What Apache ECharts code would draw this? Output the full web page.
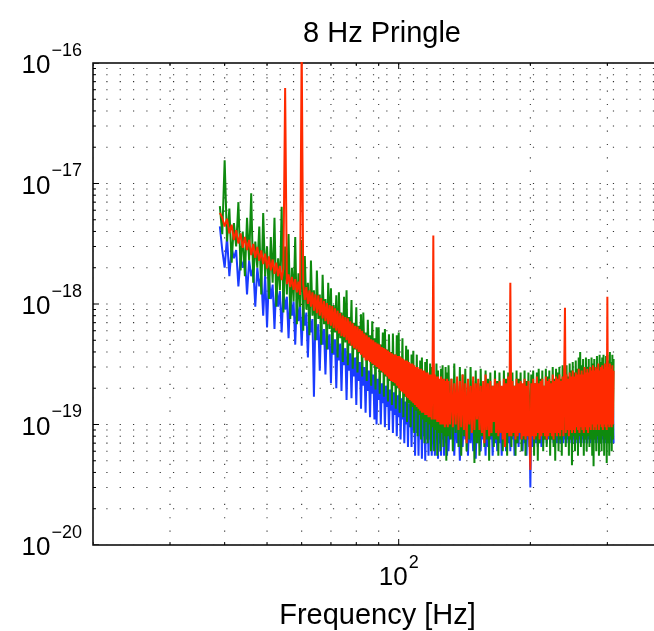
<!DOCTYPE html>
<html>
<head>
<meta charset="utf-8">
<script src="https://cdn.jsdelivr.net/npm/echarts@6/dist/echarts.min.js"></script>
<style>html,body{margin:0;padding:0;background:#fff}#chart{width:654px;height:631px}</style>
</head>
<body>
<div id="chart"></div>
<script>
// ---------- text ----------
const chartTitle = '8 Hz Pringle';
const xAxisName = 'Frequency [Hz]';

// ---------- frequency bins (Hz): fine bins below 130 Hz, 1 Hz bins above ----------
const lowStart = 39, lowStep = 0.5;    // 39 ... 129.5 Hz
const highStart = 130, highStep = 1;   // 130 ... 310 Hz

// ---------- values, in units of 1e-20 ----------
const valueUnit = 1e-20;

const blueLow = [
  440, 280,
  200, 360, 170, 290, 240, 280, 140, 240, 200, 250,
  120, 230, 170, 200, 95, 200, 140, 170, 80, 175,
  64, 170, 110, 145, 62, 150, 95, 128, 58, 130,
  90, 115, 52, 120, 80, 105, 46, 110, 72, 96,
  45, 95, 66, 85, 36, 88, 58, 75, 17, 78,
  50, 68, 28, 70, 46, 62, 26, 63, 42, 56,
  22, 58, 38, 51, 20, 53, 34, 47, 19, 48,
  31, 43, 16, 45, 28, 39, 16.5, 41, 25, 36,
  14.5, 37, 23, 33, 13.5, 34, 21, 30, 12.5, 31,
  19, 28, 11.5, 29, 18, 26, 11, 27, 10, 24,
  16, 25, 10, 22, 15, 23, 9.5, 21, 14, 21,
  9, 19.5, 13, 20, 8.5, 18.5, 12, 19, 8, 17.5,
  11.5, 18, 7.5, 16.5, 11, 17, 7, 15.5, 10, 16,
  6.5, 15, 9.5, 15, 6.5, 14, 9, 14.5, 5.5, 13.5,
  8.5, 14, 5.5, 13, 8, 13.5, 5.2, 13, 8, 12.5,
  5, 13, 7.5, 12.5, 5.5, 12, 7.5, 12.5, 5.5, 12,
  7, 12, 5.5, 12, 7.5, 11.5, 5.2, 11.5, 7, 11.5,
  5.5, 11.5, 7.5, 11.5, 5.5, 11, 7, 11, 5.5, 11
];
const blueHigh = [
  6, 12, 7.5, 12, 5.5, 12, 7, 12, 5, 12,
  6.5, 12, 7.5, 12, 5.5, 11, 7, 12, 6, 11,
  5.2, 12, 7, 11, 6, 12, 7.5, 11, 5.5, 12,
  6.5, 11, 7.5, 12, 5.5, 11, 7, 12, 6, 11,
  7, 12, 5.5, 11, 7.5, 12, 6, 11, 7, 12,
  6, 11, 7.5, 12, 5.5, 11, 7, 12, 6.5, 11,
  7.5, 12, 6, 11, 7, 12, 5.5, 11, 7.5, 12,
  3.0, 12, 6.5, 11, 7.5, 12, 7, 11, 6.5, 12,
  7, 11, 6.5, 12, 7, 11, 7.5, 12, 7, 11,
  7.5, 12, 7, 13, 7.5, 12, 7, 13, 7.5, 12,
  7, 13, 7.5, 12, 7, 13, 7.5, 12, 7, 13,
  7.5, 13, 7, 14, 7.5, 13, 7, 14, 7.5, 13,
  7, 14, 7.5, 13, 7, 14, 7.5, 13, 7, 14,
  7.5, 14, 7, 15, 7.5, 14, 7, 15, 7.5, 14,
  7, 15, 7.5, 14, 7, 15, 7.5, 14, 7, 15,
  7.5, 15, 7, 16, 7.5, 15, 7, 16, 7.5, 15,
  7, 16, 7.5, 15, 7, 16, 7.5, 15, 7, 16,
  7.5, 16, 7, 15, 7.5, 16, 7, 15, 7.5, 16,
  7
];

const greenLow = [
  650, 380,
  1560, 330, 620, 220, 470, 300, 700, 190, 400, 170,
  520, 230, 830, 150, 330, 200, 440, 120, 570, 170,
  300, 110, 360, 150, 520, 95, 240, 130, 640, 85,
  300, 120, 380, 75, 200, 105, 360, 68, 180, 95,
  340, 60, 250, 90, 150, 55, 230, 80, 130, 50,
  190, 75, 120, 46, 175, 68, 110, 42, 150, 62,
  135, 39, 98, 58, 118, 36, 125, 52, 85, 33,
  115, 48, 130, 31, 78, 45, 108, 29, 70, 42,
  94, 27, 66, 39, 82, 25, 85, 36, 58, 23,
  74, 34, 55, 21, 72, 31, 52, 19.5, 64, 29,
  64, 18, 46, 27, 58, 17, 62, 25, 42, 15.5,
  56, 23, 40, 14.5, 57, 21, 38, 13.5, 55, 20,
  58, 12.5, 36, 19, 52, 11.5, 34, 17, 45, 10.5,
  42, 15, 30, 9.5, 38, 14, 41, 8.5, 28, 13,
  38, 8, 27, 12, 34, 7.5, 36, 11, 26, 7,
  33, 10.5, 35, 7, 25, 10, 32, 6, 30, 9.5,
  31, 6, 24, 9, 32, 5.5, 28, 8.5, 23, 6,
  29, 8.5, 31, 6.5, 22, 8, 30, 5, 27, 8
];
const greenHigh = [
  31, 7.5, 24, 6, 32, 8.5, 21, 6.5, 30, 5.5,
  26, 8, 29, 6, 20, 7.5, 30, 8.5, 23, 4.8,
  28, 7, 22, 5.5, 29, 8, 19, 6.5, 28, 7.5,
  24, 5, 27, 8, 21, 6.5, 28, 7.5, 23, 5.5,
  27, 8.5, 20, 6, 28, 7.5, 24, 5.5, 27, 8,
  22, 6.5, 27, 8, 21, 5.5, 28, 7, 24, 8.5,
  27, 6, 20, 7.5, 28, 5.5, 23, 8, 27, 6.5,
  6.5, 26, 8, 28, 5.5, 22, 7.5, 27, 5, 29,
  7, 24, 8.5, 28, 6, 21, 7.5, 29, 6.5, 25,
  8, 28, 5.5, 23, 7.5, 30, 6.5, 24, 5, 29,
  8, 27, 6, 30, 7.5, 24, 5.5, 31, 8, 27,
  30, 6.5, 31, 8, 25, 5.5, 32, 7.5, 28, 4.6,
  33, 8, 27, 6, 34, 7.5, 29, 5.5, 36, 8,
  40, 6.5, 31, 8, 35, 5.5, 28, 7.5, 36, 6,
  30, 8, 35, 6.5, 29, 7.5, 36, 5.5, 32, 4.5,
  35, 7.5, 30, 6, 37, 8, 31, 5.5, 38, 7,
  33, 6, 36, 8, 38, 5.5, 31, 7.5, 37, 4.8,
  38, 7, 34, 5.5, 40, 8, 33, 6, 38, 7.5,
  35
];

const redLow = [
  570, 520,
  440, 510, 385, 455, 340, 410, 318, 385, 292, 360,
  280, 340, 255, 315, 242, 298, 228, 278, 214, 262,
  198, 248, 190, 234, 178, 220, 170, 207, 158, 196,
  6200, 146, 176, 138, 168, 131, 161, 125, 153, 119,
  15000, 145, 108, 138, 100, 130, 95, 125, 88, 120,
  84, 118, 80, 112, 76, 106, 72, 102, 68, 98,
  66, 96, 63, 92, 60, 88, 57, 84, 54, 80,
  53, 78, 50, 76, 47, 72, 45, 69, 43, 66,
  42, 65, 40, 62, 38, 60, 36, 57, 34, 55,
  34, 53, 33, 51, 32, 50, 31, 48, 30, 47,
  29, 46, 28, 44, 27, 43, 26, 42, 25, 41,
  24, 40, 23, 39, 22.5, 38, 22, 38, 21, 37,
  20, 37, 19, 36, 18.5, 35, 18, 34, 17, 34,
  16.5, 33, 16, 32, 15.5, 32, 15, 31, 14.5, 30,
  14, 30, 13.5, 29, 13, 29, 12.5, 28, 12.5, 28,
  12, 27, 12, 27, 11.5, 26, 11.5, 26, 11, 26,
  370, 11, 26, 11, 25, 10.5, 25, 10.5, 24, 10,
  25, 10, 24, 10, 24, 9.5, 23, 10, 24, 9.5
];
const redHigh = [
  23, 10, 24, 9.5, 22, 10, 25, 9, 23, 9.5,
  26, 9, 22, 7, 24, 10, 21, 8.5, 25, 9,
  22, 11, 24, 9, 21, 8.5, 23, 7, 26, 9,
  22, 8, 23, 8.5, 21, 10.5, 24, 8.5, 22, 8,
  23, 8.5, 21, 7.5, 24, 6.5, 22, 8.5, 25, 8,
  150, 8, 23, 8.5, 21, 7.5, 24, 8, 22, 8.5,
  23, 7.5, 22, 8, 24, 7.5, 21, 8, 23, 8.5,
  4.2, 22, 8, 24, 7.5, 22, 8, 25, 8.5, 22,
  7.5, 23, 8, 24, 8.5, 21, 8, 25, 7.5, 23,
  8, 24, 8.5, 22, 8, 26, 7.5, 23, 8.5, 25,
  8, 24, 8.5, 26, 8, 23, 9, 25, 8, 27,
  93, 8.5, 26, 9, 24, 8, 27, 9, 25, 8.5,
  28, 9, 25, 8.5, 27, 9.5, 26, 9, 29, 8.5,
  26, 9.5, 28, 9, 26, 8.5, 30, 9.5, 27, 9,
  29, 8.5, 27, 9.5, 30, 9, 28, 10, 31, 9,
  28, 9.5, 30, 9, 29, 10, 32, 9, 28, 10,
  30, 9.5, 31, 9, 29, 10, 32, 9.5, 30, 9,
  115, 10, 30, 9.5, 32, 10, 29, 9.5, 31, 10,
  28
];

// ---------- axes ----------
const xMin = 20, xMax = 400;
const yMin = 1e-20, yMax = 1e-16;
const xGridVals = [20, 30, 40, 50, 60, 70, 80, 90, 100, 200, 300, 400];
const xMajorVals = [100];
const yMantissas = [1, 2, 3, 4, 5, 6, 7, 8, 9];
const yDecades = [-20, -19, -18, -17];

// ---------- build ----------
const FONT = '"Liberation Sans", Helvetica, Arial, sans-serif';
const yGridVals = [];
yDecades.forEach(d => yMantissas.forEach(m => yGridVals.push(m * Math.pow(10, d))));
yGridVals.push(1e-16);

function toPairs(lowVals, highVals) {
  const out = [];
  lowVals.forEach((v, i) => out.push([lowStart + i * lowStep, v * valueUnit]));
  highVals.forEach((v, i) => out.push([highStart + i * highStep, v * valueUnit]));
  return out;
}
function isDecade(v) {
  const l = Math.log10(v);
  return Math.abs(l - Math.round(l)) < 1e-6;
}
function powLabel(v) {
  if (!isDecade(v)) return '';
  const e = Math.round(Math.log10(v));
  return '{b|10}{s|' + (e < 0 ? '\u2212' : '') + Math.abs(e) + '}';
}
const richPow = {
  b: { fontSize: 26, fontFamily: FONT, color: '#000', lineHeight: 26, padding: [11, 0, 5, 0] },
  s: { fontSize: 18, fontFamily: FONT, color: '#000', lineHeight: 18, padding: [0, 0, 24, 1] }
};

const DOT = [1.2, 12.13];
const chart = echarts.init(document.getElementById('chart'), null, { renderer: 'canvas' });

const gridSeriesV = {
  type: 'custom', coordinateSystem: 'cartesian2d', silent: true, clip: true, z: 1,
  data: xGridVals.map(v => [v, yMin]),
  renderItem: function (params, api) {
    const x = api.value(0);
    const b = api.coord([x, yMin]);
    const t = api.coord([x, yMax]);
    const len = xMajorVals.indexOf(x) >= 0 ? 6 : 3;
    return { type: 'group', children: [
      { type: 'line', shape: { x1: b[0], y1: b[1], x2: t[0], y2: t[1] }, style: { stroke: '#333', lineWidth: 1.1, lineDash: DOT } },
      { type: 'line', shape: { x1: b[0], y1: b[1], x2: b[0], y2: b[1] - len }, style: { stroke: '#000', lineWidth: 1 } },
      { type: 'line', shape: { x1: t[0], y1: t[1], x2: t[0], y2: t[1] + len }, style: { stroke: '#000', lineWidth: 1 } }
    ]};
  }
};
const gridSeriesH = {
  type: 'custom', coordinateSystem: 'cartesian2d', silent: true, clip: true, z: 1,
  data: yGridVals.map(v => [xMin, v]),
  renderItem: function (params, api) {
    const y = api.value(1);
    const l = api.coord([xMin, y]);
    const r = api.coord([xMax, y]);
    const len = isDecade(y) ? 6 : 3;
    return { type: 'group', children: [
      { type: 'line', shape: { x1: l[0], y1: l[1], x2: r[0], y2: r[1] }, style: { stroke: '#333', lineWidth: 1.1, lineDash: DOT } },
      { type: 'line', shape: { x1: l[0], y1: l[1], x2: l[0] + len, y2: l[1] }, style: { stroke: '#000', lineWidth: 1 } },
      { type: 'line', shape: { x1: r[0], y1: r[1], x2: r[0] - len, y2: r[1] }, style: { stroke: '#000', lineWidth: 1 } }
    ]};
  }
};

function lineSeries(lowVals, highVals, color) {
  return {
    type: 'line', data: toPairs(lowVals, highVals), showSymbol: false, symbol: 'none',
    lineStyle: { color: color, width: 2 }, itemStyle: { color: color },
    clip: true, z: 3, animation: false, silent: true
  };
}

chart.setOption({
  animation: false,
  backgroundColor: '#fff',
  title: {
    text: chartTitle, left: 377, top: 14, textAlign: 'center',
    textStyle: { fontSize: 29, fontWeight: 'normal', color: '#000', fontFamily: FONT }
  },
  grid: {
    left: 93, top: 63, width: 569, height: 482,
    show: true, borderColor: '#000', borderWidth: 1.5, backgroundColor: 'transparent',
    containLabel: false, outerBoundsMode: 'none'
  },
  xAxis: {
    type: 'log', logBase: 10, min: xMin, max: xMax,
    axisLine: { show: false }, axisTick: { show: false }, splitLine: { show: false },
    axisLabel: {
      formatter: powLabel, rich: richPow, margin: 17, color: '#000',
      showMinLabel: true, showMaxLabel: true, hideOverlap: false
    },
    name: xAxisName, nameLocation: 'middle', nameGap: 56,
    nameTextStyle: { fontSize: 29, color: '#000', fontFamily: FONT }
  },
  yAxis: {
    type: 'log', logBase: 10, min: yMin, max: yMax,
    axisLine: { show: false }, axisTick: { show: false }, splitLine: { show: false },
    axisLabel: { formatter: powLabel, rich: richPow, margin: 11, color: '#000', showMinLabel: true, showMaxLabel: true }
  },
  series: [
    gridSeriesV, gridSeriesH,
    lineSeries(blueLow, blueHigh, '#1a3cff'),
    lineSeries(greenLow, greenHigh, '#0e8a0e'),
    lineSeries(redLow, redHigh, '#ff2a00')
  ]
});
</script>
</body>
</html>
